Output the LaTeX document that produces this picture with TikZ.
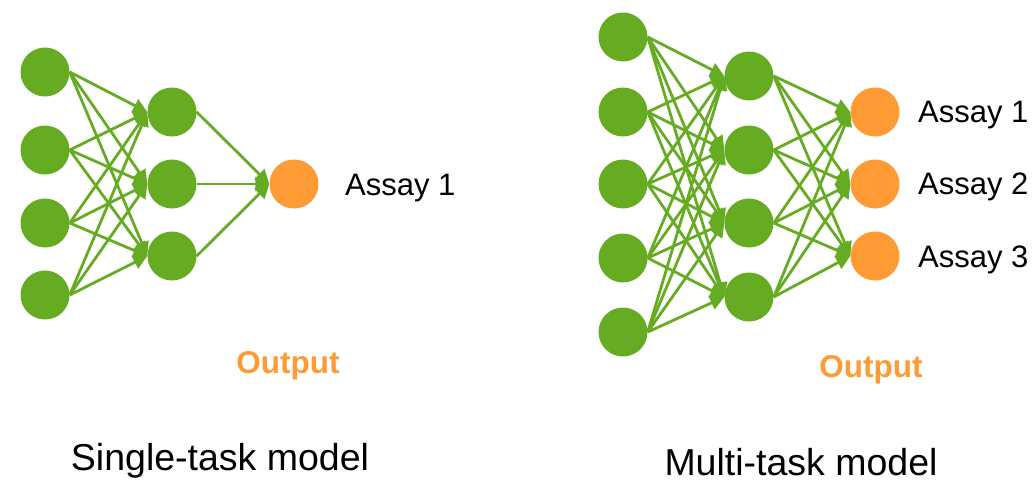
\documentclass[tikz,border=0pt]{standalone}
\usepackage{fontspec}
\setmainfont{Liberation Sans}
\usetikzlibrary{arrows.meta}
\definecolor{nngreen}{RGB}{102,172,34}
\definecolor{nnorange}{RGB}{255,154,53}
\tikzset{
  neuron/.style={circle,fill=nngreen,draw=none,minimum size=49pt,inner sep=0pt},
  outneuron/.style={neuron,fill=nnorange},
  conn/.style={draw=nngreen,line width=2.8pt,-{Triangle[length=14pt,width=14pt]}},
  assay/.style={anchor=base west,inner sep=0pt,font=\fontsize{31}{36}\selectfont},
  outlabel/.style={anchor=base,text=nnorange,font=\fontsize{31.5}{36}\selectfont\bfseries},
  title/.style={anchor=base,font=\fontsize{37.5}{44}\selectfont}
}
\begin{document}
\begin{tikzpicture}[x=1pt,y=-1pt]
\useasboundingbox (0,0) rectangle (1036,482);
% ---- single-task model ----
\foreach \y [count=\i] in {72,150,223,295} \node[neuron] (si\i) at (45,\y) {};
\foreach \y [count=\i] in {112,184,256} \node[neuron] (sh\i) at (172,\y) {};
\node[outneuron] (so1) at (294,184) {};
\foreach \i in {1,...,4} \foreach \j in {1,...,3} \draw[conn] (si\i.east) -- (sh\j.west);
\foreach \j in {1,...,3} \draw[conn] (sh\j.east) -- (so1.west);
\node[assay] (sa1) at (345,195) {Assay 1};
\node[outlabel] (sout) at (288,373) {Output};
\node[title] (stitle) at (220,470) {Single-task model};
% ---- multi-task model ----
\foreach \y [count=\i] in {37,112,184,258,332} \node[neuron] (mi\i) at (623,\y) {};
\foreach \y [count=\i] in {76,150,223,297} \node[neuron] (mh\i) at (749,\y) {};
\foreach \y [count=\i] in {112,184,256} \node[outneuron] (mo\i) at (875,\y) {};
\foreach \i in {1,...,5} \foreach \j in {1,...,4} \draw[conn] (mi\i.east) -- (mh\j.west);
\foreach \i in {1,...,4} \foreach \j in {1,...,3} \draw[conn] (mh\i.east) -- (mo\j.west);
\node[assay] (ma1) at (918,122) {Assay 1};
\node[assay] (ma2) at (918,194) {Assay 2};
\node[assay] (ma3) at (918,267) {Assay 3};
\node[outlabel] (mout) at (871,377) {Output};
\node[title] (mtitle) at (801,475) {Multi-task model};
\end{tikzpicture}
\end{document}
